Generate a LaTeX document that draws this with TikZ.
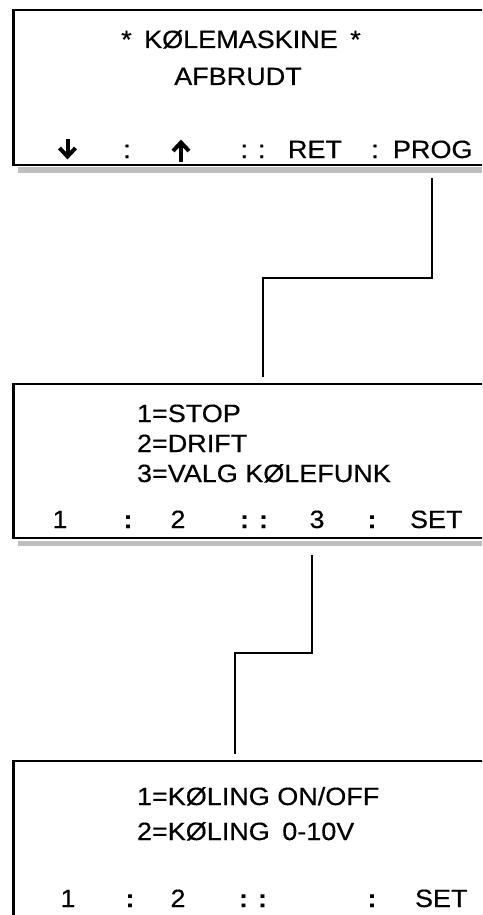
\documentclass[tikz,border=0pt]{standalone}
\usepackage{fontspec}
\setmainfont{Liberation Sans}[FakeStretch=1.08,FakeBold=0.4]
\definecolor{shadowgray}{RGB}{190,190,190}
\begin{document}
\begin{tikzpicture}[x=1pt,y=-1pt,
  screen/.style={draw=black,line width=2.5pt,rectangle,inner sep=0pt,outer sep=0pt,anchor=north west,minimum width=520pt},
  shadowbar/.style={fill=shadowgray,draw=none,rectangle,inner sep=0pt,outer sep=0pt,anchor=north west,minimum width=520pt,minimum height=5.5pt},
  wire/.style={line width=2pt},
  txt/.style={inner sep=0pt,outer sep=0pt,font=\fontsize{25}{30}\selectfont},
  keyarrow/.style={line width=4pt,miter limit=10},
  bcol/.style={txt,font=\fontsize{25}{30}\selectfont\bfseries}]
\useasboundingbox (0,0) rectangle (482,915);
\clip (0,0) rectangle (482,915);

% screens
\node[shadowbar] (s1) at (18,167) {};
\node[screen,minimum height=155pt] (b1) at (13.5,10) {};
\node[shadowbar] (s2) at (18,540.5) {};
\node[screen,minimum height=154pt] (b2) at (13.5,384) {};
\node[screen,minimum height=200pt] (b3) at (13.5,761) {};

% screen 1 texts
\node[txt,anchor=base] (t1a) at (241,48) {*\enspace KØLEMASKINE\enspace *};
\node[txt,anchor=base] (t1b) at (238,85) {AFBRUDT};
\coordinate (t1c) at (67.5,158);
\draw[keyarrow] (t1c) ++(0,-19) -- ++(0,18);
\draw[keyarrow] (t1c) ++(-8,-10) -- ++(8,8.5) -- ++(8,-8.5);
\node[txt,anchor=base] (t1d) at (127,158) {:};
\coordinate (t1e) at (181,158);
\draw[keyarrow] (t1e) ++(0,4) -- ++(0,-19);
\draw[keyarrow] (t1e) ++(-8,-7) -- ++(8,-8.5) -- ++(8,8.5);
\node[txt,anchor=base] (t1f) at (253,158) {: :};
\node[txt,anchor=base west] (t1g) at (288,158) {RET};
\node[txt,anchor=base] (t1h) at (375,158) {:};
\node[txt,anchor=base west] (t1i) at (393,158) {PROG};

% screen 2 texts
\node[txt,anchor=base west] (t2a) at (137,422) {1=STOP};
\node[txt,anchor=base west] (t2b) at (137,452) {2=DRIFT};
\node[txt,anchor=base west] (t2c) at (137,482) {3=VALG KØLEFUNK};
\node[txt,anchor=base] (t2d) at (60,528) {1};
\node[bcol,anchor=base] (t2e) at (128,528) {:};
\node[txt,anchor=base] (t2f) at (178,528) {2};
\node[bcol,anchor=base] (t2g) at (254,528) {: :};
\node[txt,anchor=base] (t2h) at (317,528) {3};
\node[bcol,anchor=base] (t2i) at (372,528) {:};
\node[txt,anchor=base west] (t2j) at (410,528) {SET};

% screen 3 texts
\node[txt,anchor=base west] (t3a) at (137,805) {1=KØLING ON/OFF};
\node[txt,anchor=base west] (t3b) at (137,840) {2=KØLING\enspace 0-10V};
\node[txt,anchor=base] (t3c) at (68,907) {1};
\node[bcol,anchor=base] (t3d) at (130,907) {:};
\node[txt,anchor=base] (t3e) at (178,907) {2};
\node[bcol,anchor=base] (t3f) at (253,907) {: :};
\node[bcol,anchor=base] (t3g) at (372,907) {:};
\node[txt,anchor=base west] (t3h) at (415,907) {SET};

% connectors
\coordinate (c1s) at (432,178);
\coordinate (c1e) at (263,377);
\draw[wire] (c1s) -- ++(0,100) -| (c1e);
\coordinate (c2s) at (312,555);
\coordinate (c2e) at (235,754);
\draw[wire] (c2s) -- ++(0,98) -| (c2e);
\end{tikzpicture}
\end{document}
